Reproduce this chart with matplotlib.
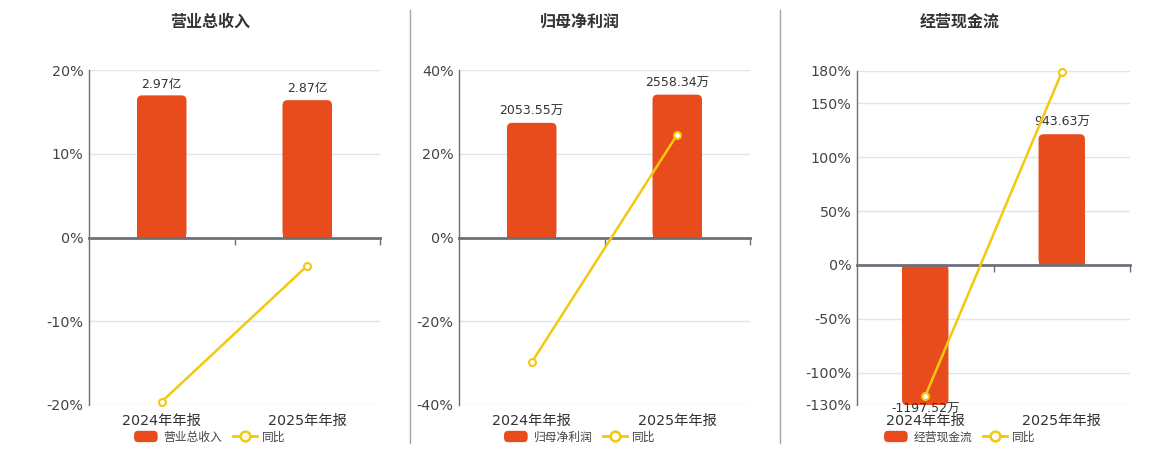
import numpy as np
import matplotlib
matplotlib.use('Agg')
import matplotlib.pyplot as plt
from matplotlib.patches import FancyBboxPatch, Rectangle
from matplotlib.lines import Line2D
from matplotlib.legend_handler import HandlerPatch

plt.rcParams['font.family'] = ['DejaVu Sans', 'Noto Sans CJK SC']

# ---------------- data ----------------
categories = ['2024年年报', '2025年年报']
titles = ['营业总收入', '归母净利润', '经营现金流']
units = ['亿', '万', '万']

revenue = [2.97, 2.87]            # 亿
revenue_yoy = [-19.6, -3.37]      # %
net_profit = [2053.55, 2558.34]   # 万
net_profit_yoy = [-29.8, 24.58]   # %
cash_flow = [-1197.52, 943.63]    # 万
cash_flow_yoy = [-121.7, 178.8]   # %

pct_ticks_1 = [-20, -10, 0, 10, 20]
pct_ticks_2 = [-40, -20, 0, 20, 40]
pct_ticks_3 = [-130, -100, -50, 0, 50, 100, 150, 180]

bar_max = [3.5, 3000, 1400]

# ---------------- style ----------------
BAR = '#E84B1C'
YEL = '#F3C80F'
GRID = '#E0E4EF'
AXIS = '#6E7079'
TXT = '#333333'
W, H = 1160, 450

fig = plt.figure(figsize=(W / 100, H / 100), dpi=100)

panels = [(89, 380, 70, 405), (459, 750, 70, 405), (857, 1130, 71, 405)]
centers = [210, 580, 960]
series = [(revenue, revenue_yoy, pct_ticks_1),
          (net_profit, net_profit_yoy, pct_ticks_2),
          (cash_flow, cash_flow_yoy, pct_ticks_3)]

x = np.arange(len(categories))
bar_width = 0.34


def rounded_bar(axb, xc, v, width, r_px=5):
    p0 = axb.transData.transform((0, 0))
    p1 = axb.transData.transform((1, 1))
    ppx = p1[0] - p0[0]
    ppy = p1[1] - p0[1]
    rx = r_px / ppx
    aspect = ppx / ppy
    y0, y1 = min(0, v), max(0, v)
    patch = FancyBboxPatch((xc - width / 2, y0), width, y1 - y0,
                           boxstyle=f"round,pad=0,rounding_size={rx}",
                           mutation_aspect=aspect, fc=BAR, ec='none')
    axb.add_patch(patch)
    base = Rectangle((xc - width / 2, 0 if v > 0 else v / 2), width, abs(v) / 2,
                     fc=BAR, ec='none')
    axb.add_patch(base)


def round_patch(legend, orig_handle, xdescent, ydescent, width, height, fontsize):
    return FancyBboxPatch((-xdescent, -ydescent), width, height,
                          boxstyle='round,pad=0,rounding_size=3')


for i, (vals, yoy, ticks) in enumerate(series):
    l, r, t, b = panels[i]
    rect = [l / W, 1 - b / H, (r - l) / W, (b - t) / H]

    # percent axis (grid, y ticks, category labels)
    ax = fig.add_axes(rect)
    ax.set_xlim(-0.5, len(categories) - 0.5)
    ax.set_ylim(ticks[0], ticks[-1])
    ax.set_yticks(ticks)
    ax.set_yticklabels([f'{tk}%' for tk in ticks])
    ax.grid(axis='y', color=GRID, lw=1)
    ax.set_axisbelow(True)
    for s in ['top', 'right', 'bottom']:
        ax.spines[s].set_visible(False)
    ax.spines['left'].set_color(AXIS)
    ax.spines['left'].set_linewidth(1)
    ax.tick_params(axis='y', length=0, pad=4, labelsize=10.3, labelcolor='#444444')
    ax.set_xticks(x)
    ax.set_xticklabels(categories)
    ax.tick_params(axis='x', length=0, pad=6.5, labelsize=10.3, labelcolor=TXT)

    # bar axis
    axb = fig.add_axes(rect, label=f'bar{i}')
    axb.patch.set_visible(False)
    axb.set_xlim(-0.5, len(categories) - 0.5)
    bmax = bar_max[i]
    bmin = bmax * ticks[0] / ticks[-1]
    axb.set_ylim(bmin, bmax)
    axb.axis('off')
    for xc, v in zip(x, vals):
        vd = float(np.clip(v, bmin, bmax))
        rounded_bar(axb, xc, vd, bar_width)
        if v >= 0:
            axb.annotate(f'{v:.2f}{units[i]}', (xc, vd), xytext=(0, 3.5),
                         textcoords='offset points', ha='center', va='bottom',
                         fontsize=9, color=TXT)
        else:
            axb.annotate(f'{v:.2f}{units[i]}', (xc, vd), xytext=(0, 1.5),
                         textcoords='offset points', ha='center', va='top',
                         fontsize=9, color=TXT)

    # line axis (zero axis on top)
    axl = fig.add_axes(rect, label=f'line{i}')
    axl.patch.set_visible(False)
    axl.set_xlim(-0.5, len(categories) - 0.5)
    axl.set_ylim(ticks[0], ticks[-1])
    for s in ['top', 'right', 'left']:
        axl.spines[s].set_visible(False)
    axl.spines['bottom'].set_position(('data', 0))
    axl.spines['bottom'].set_color(AXIS)
    axl.spines['bottom'].set_linewidth(2)
    axl.set_xticks(x + 0.5)
    axl.tick_params(axis='x', direction='out', length=5, width=1, color=AXIS,
                    labelbottom=False)
    axl.set_yticks([])
    axl.plot(x, yoy, color=YEL, lw=1.8, marker='o', ms=5, mfc='white',
             mec=YEL, mew=1.5, clip_on=False, zorder=5)

    # title
    fig.text(centers[i] / W, 1 - 22 / H, titles[i], ha='center', va='center',
             fontsize=11.5, fontweight='bold', color=TXT)

    # legend
    hb = Rectangle((0, 0), 1, 1, fc=BAR, ec='none')
    hl = Line2D([], [], color=YEL, lw=2, marker='o', ms=7, mfc='white',
                mec=YEL, mew=1.8)
    fig.legend([hb, hl], [titles[i], '同比'], loc='center',
               bbox_to_anchor=(centers[i] / W, 1 - 437 / H), ncol=2,
               frameon=False, fontsize=8.5, labelcolor='#444444',
               handlelength=2.0, handleheight=1.1, handletextpad=0.5,
               columnspacing=0.9, borderpad=0, borderaxespad=0,
               handler_map={Rectangle: HandlerPatch(patch_func=round_patch)})

# separators
for xs in [410, 780]:
    fig.add_artist(Line2D([xs / W, xs / W], [1 - 10 / H, 1 - 443 / H],
                          color='#A8A8A0', lw=1))

fig.savefig('out.png', dpi=100)
